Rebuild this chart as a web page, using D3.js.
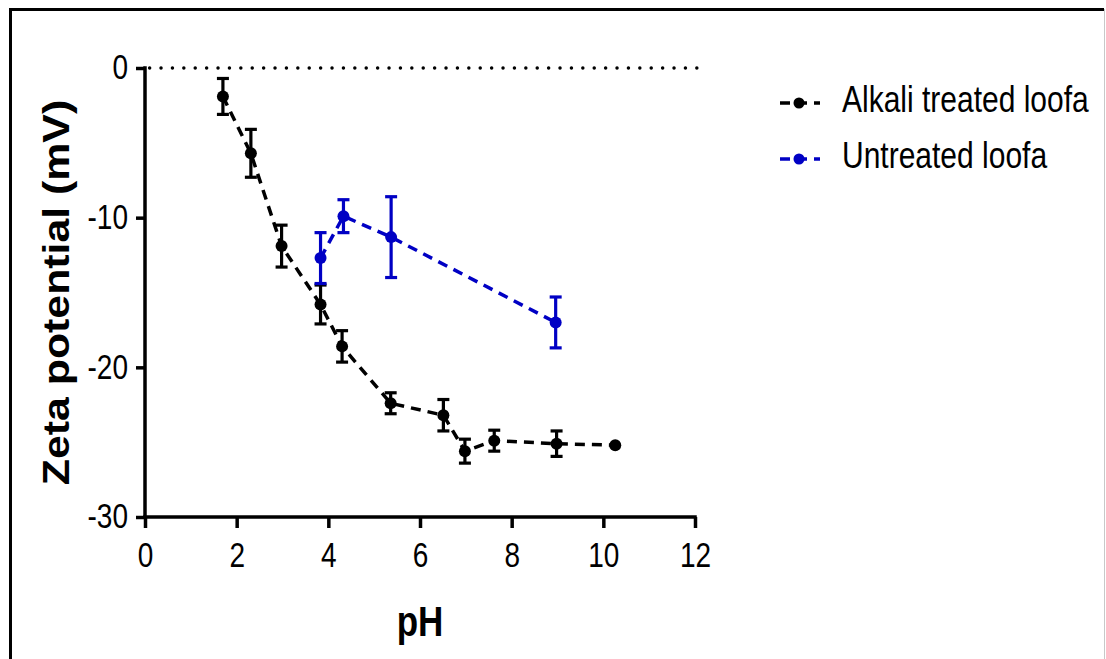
<!DOCTYPE html>
<html>
<head>
<meta charset="utf-8">
<script src="https://cdn.jsdelivr.net/npm/d3@7"></script>
<style>
  body { margin: 0; background: #fff; }
  text { font-family: "Liberation Sans", Arial, sans-serif; fill: #000; }
</style>
</head>
<body>
<div id="chart"></div>
<script>
// pH values and zeta potentials (mV) with error (SD)
const alkaliPH   = [1.70, 2.31, 2.98, 3.83, 4.30, 5.36, 6.51, 6.98, 7.62, 8.98, 10.26];
const alkaliZeta = [-1.9, -5.7, -11.9, -15.8, -18.6, -22.4, -23.2, -25.6, -24.9, -25.1, -25.2];
const alkaliErr  = [1.2, 1.6, 1.4, 1.3, 1.05, 0.7, 1.05, 0.8, 0.7, 0.85, 0];

const rawPH   = [3.83, 4.33, 5.37, 8.96];
const rawZeta = [-12.7, -9.9, -11.3, -17.0];
const rawErr  = [1.7, 1.1, 2.7, 1.7];

const seriesNames = ["Alkali treated loofa", "Untreated loofa"];
const seriesColors = ["#000000", "#0000c4"];
const xTicks = [0, 2, 4, 6, 8, 10, 12];
const yTicks = [0, -10, -20, -30];

function showZetaChart()
{
    const W = 1106, H = 659;
    const stretch = 1.22; // the picture is a little taller than wide

    const svg = d3.select("#chart")
        .append("svg")
        .attr("width", W)
        .attr("height", H);

    // outer frame (left and top heavy, right thin grey)
    svg.append("path")
        .attr("d", `M10.5,${H} V9.5 H1104`)
        .style("fill", "none")
        .style("stroke", "#000")
        .style("stroke-width", 3);
    svg.append("line")
        .attr("x1", 1104.5).attr("x2", 1104.5)
        .attr("y1", 9).attr("y2", H)
        .style("stroke", "#c8c8c8")
        .style("stroke-width", 1);

    const x = d3.scaleLinear().domain([0, 12]).range([145, 695]);
    const y = d3.scaleLinear().domain([0, -30]).range([68, 517]);

    // dotted zero line
    svg.append("line")
        .attr("x1", x(0.1)).attr("x2", x(12.05))
        .attr("y1", y(0)).attr("y2", y(0))
        .style("stroke", "#000")
        .style("stroke-width", 3.4)
        .style("stroke-linecap", "round")
        .style("stroke-dasharray", "0.1,11.3");

    // axes
    const gx = svg.append("g")
        .attr("transform", `translate(0,${y(-30)})`)
        .call(d3.axisBottom(x).tickValues(xTicks).tickSize(11).tickSizeOuter(0).tickPadding(10).tickFormat(d => String(d)));
    const gy = svg.append("g")
        .attr("transform", `translate(${x(0)},0)`)
        .call(d3.axisLeft(y).tickValues(yTicks).tickSize(9).tickSizeOuter(0).tickPadding(8).tickFormat(d => String(d)));

    [gx, gy].forEach(g => {
        g.select(".domain").style("stroke-width", 3.5);
        g.selectAll(".tick line").style("stroke-width", 3.5);
        g.selectAll(".tick text")
            .style("font-size", "28px")
            .attr("transform", `scale(1,${stretch})`);
    });
    gx.select(".domain").attr("d", `M${x(0) - 1.75},0H${x(12) + 1.75}`);
    gy.select(".domain").attr("d", `M0,${y(0) - 1.75}V${y(-30) + 1.75}`);

    // axis titles
    svg.append("text")
        .attr("transform", `translate(69,${(y(0) + y(-30)) / 2}) scale(1,1.19) rotate(-90)`)
        .style("text-anchor", "middle")
        .style("font-weight", "bold")
        .style("font-size", "36px")
        .text("Zeta potential (mV)");
    svg.append("text")
        .attr("transform", `translate(${x(6)},636) scale(1,${stretch})`)
        .style("text-anchor", "middle")
        .style("font-weight", "bold")
        .style("font-size", "35px")
        .text("pH");

    const series = [
        { name: seriesNames[0], color: seriesColors[0],
          data: alkaliPH.map((p, i) => ({ ph: p, z: alkaliZeta[i], e: alkaliErr[i] })) },
        { name: seriesNames[1], color: seriesColors[1],
          data: rawPH.map((p, i) => ({ ph: p, z: rawZeta[i], e: rawErr[i] })) }
    ];

    const line = d3.line()
        .x(d => x(d.ph))
        .y(d => y(d.z));

    series.forEach(s => {
        const g = svg.append("g");

        g.append("path")
            .datum(s.data)
            .attr("d", line)
            .style("fill", "none")
            .style("stroke", s.color)
            .style("stroke-width", 3.5)
            .style("stroke-dasharray", "10,7");

        // error bars
        const eb = g.selectAll(".err")
            .data(s.data.filter(d => d.e > 0))
            .join("g")
            .style("stroke", s.color)
            .style("stroke-width", 3.2);
        eb.append("line")
            .attr("x1", d => x(d.ph)).attr("x2", d => x(d.ph))
            .attr("y1", d => y(d.z + d.e)).attr("y2", d => y(d.z - d.e));
        eb.append("line")
            .attr("x1", d => x(d.ph) - 6).attr("x2", d => x(d.ph) + 6)
            .attr("y1", d => y(d.z + d.e)).attr("y2", d => y(d.z + d.e));
        eb.append("line")
            .attr("x1", d => x(d.ph) - 6).attr("x2", d => x(d.ph) + 6)
            .attr("y1", d => y(d.z - d.e)).attr("y2", d => y(d.z - d.e));

        g.selectAll("circle")
            .data(s.data)
            .join("circle")
            .attr("cx", d => x(d.ph))
            .attr("cy", d => y(d.z))
            .attr("r", 6)
            .style("fill", s.color);
    });

    // legend
    const legend = svg.append("g");
    series.forEach((s, i) => {
        const ly = 103 + i * 56;
        legend.append("line")
            .attr("x1", 780).attr("x2", 820)
            .attr("y1", ly).attr("y2", ly)
            .style("stroke", s.color)
            .style("stroke-width", 3.5)
            .style("stroke-dasharray", "10,7");
        legend.append("circle")
            .attr("cx", 799).attr("cy", ly)
            .attr("r", 5.5)
            .style("fill", s.color);
        legend.append("text")
            .attr("transform", `translate(842,${ly + 9}) scale(1,${stretch})`)
            .style("font-size", "30px")
            .text(s.name);
    });
}

showZetaChart();
</script>
</body>
</html>
